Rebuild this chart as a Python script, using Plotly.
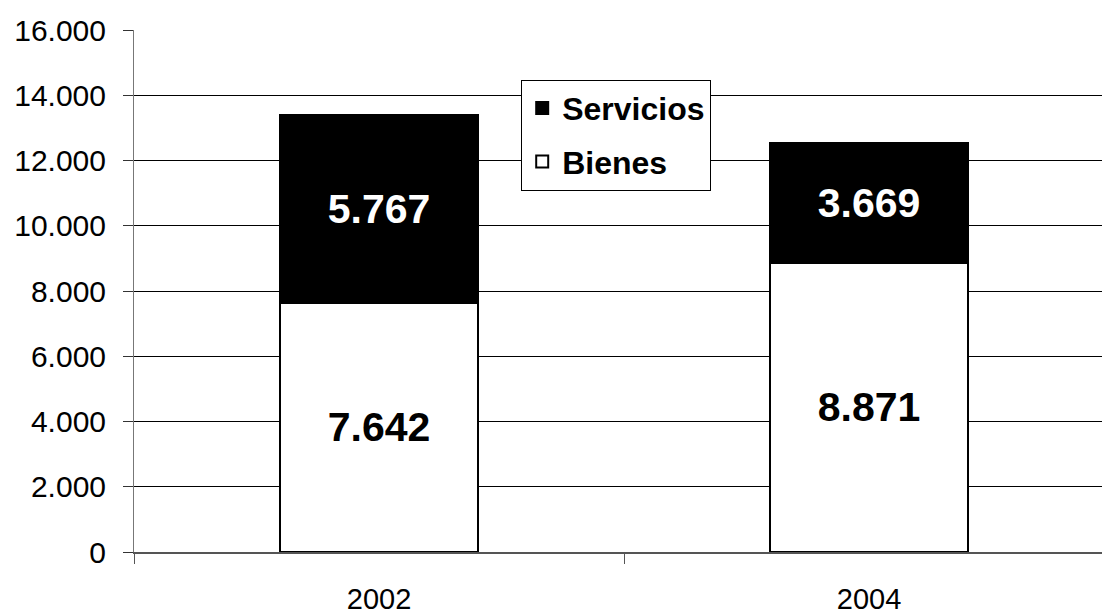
import plotly.graph_objects as go

years = ["2002", "2004"]
bienes = [7642, 8871]
servicios = [5767, 3669]
y_ticks = [0, 2000, 4000, 6000, 8000, 10000, 12000, 14000, 16000]

font = "Liberation Sans, Arial, sans-serif"

fig = go.Figure()
fig.add_trace(go.Bar(
    x=years, y=bienes, name="Bienes", legendgroup="b", legendrank=2,
    marker=dict(color="white", line=dict(color="black", width=2)),
    texttemplate="%{y:,}", textposition="inside", insidetextanchor="middle",
    constraintext="none",
    textfont=dict(family=font, size=41, color="black", weight="bold"),
))
fig.add_trace(go.Bar(
    x=years, y=servicios, name="Servicios", legendgroup="s", legendrank=1,
    marker=dict(color="black", line=dict(color="black", width=2)),
    texttemplate="%{y:,}", textposition="inside", insidetextanchor="middle",
    constraintext="none",
    textfont=dict(family=font, size=41, color="white", weight="bold"),
))

fig.update_layout(
    width=1102, height=615,
    margin=dict(l=134, r=0, t=29.5, b=59),
    barmode="stack", bargap=0.594,
    separators=",.",
    paper_bgcolor="white", plot_bgcolor="white",
    font=dict(family=font, size=29, color="black"),
    showlegend=True,
    legend=dict(
        x=0.4, y=0.905, xanchor="left", yanchor="top",
        traceorder="grouped", tracegroupgap=9,
        bgcolor="white", bordercolor="black", borderwidth=1,
        font=dict(family=font, size=32, color="black", weight="bold"),
        itemsizing="constant",
    ),
    xaxis=dict(
        type="category", range=[-0.5, 1.4755],
        tickson="boundaries", ticks="outside", ticklen=10, tickcolor="#555",
        showgrid=False, showline=True, linecolor="#555", linewidth=2,
        ticklabelstandoff=20,
        tickfont=dict(family=font, size=29, color="black"),
    ),
    yaxis=dict(
        range=[0, 16000], tickvals=y_ticks, tickformat=",",
        ticks="outside", ticklen=10, tickcolor="#333",
        showgrid=True, gridcolor="black", gridwidth=1,
        showline=True, linecolor="#777", linewidth=1,
        zeroline=False,
        ticklabelstandoff=11,
        tickfont=dict(family=font, size=30, color="black"),
    ),
)

fig.write_html(
    "out.html",
    config={"displayModeBar": False},
    post_script="document.body.style.margin='0';document.body.style.overflow='hidden';",
)
